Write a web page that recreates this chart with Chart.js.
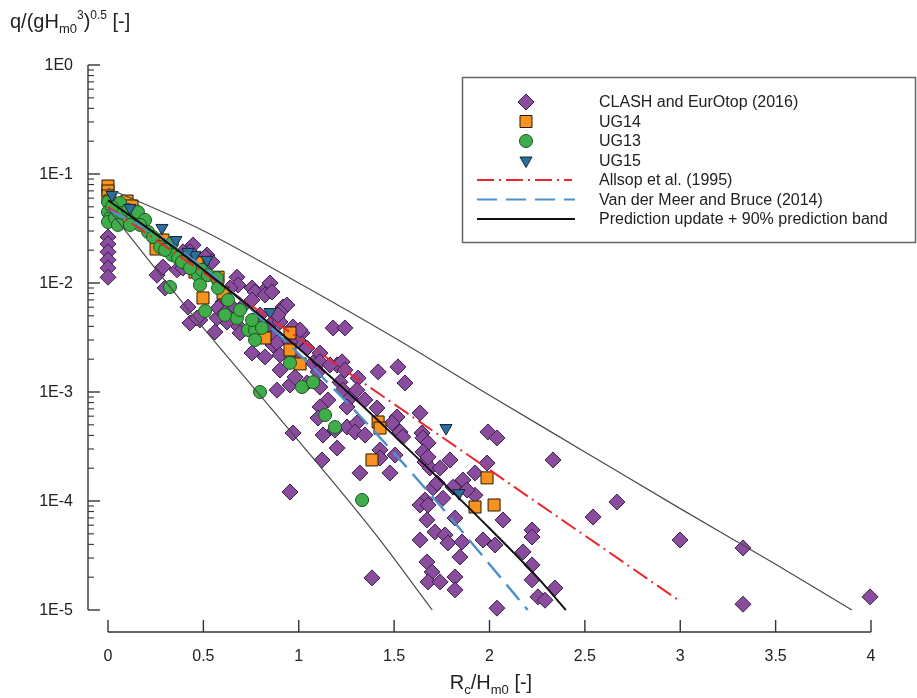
<!DOCTYPE html>
<html><head><meta charset="utf-8">
<script src="https://cdn.jsdelivr.net/npm/chart.js@4.4.1/dist/chart.umd.min.js"></script>
<style>html,body{margin:0;padding:0;background:#fff;}#wrap{width:917px;height:698px;position:relative;}</style>
</head><body><div id="wrap"><canvas id="c" width="917" height="698"></canvas></div>
<script>
// ---------------- data ----------------
const clashX = [0,0,0,0,0,0,0.257,0.288,0.299,0.362,
0.393,0.446,0.430,0.393,0.519,0.509,0.524,0.545,0.676,0.682,
0.755,0.813,0.849,0.917,0.603,0.640,0.703,0.419,0.430,0.482,
0.561,0.970,1.017,0.886,0.498,0.467,0.624,0.655,0.771,0.823,
0.860,0.755,0.938,0.902,0.676,0.692,0.849,0.902,0.865,0.755,
0.823,0.980,1.043,1.111,1.075,1.180,1.242,1.201,0.891,0.876,
0.886,0.996,1.111,1.164,1.101,1.227,1.242,0.902,0.954,0.886,
1.043,1.111,1.216,1.232,1.311,1.269,1.347,1.416,1.520,1.557,
1.410,1.253,1.153,1.111,1.253,1.305,1.295,0.970,1.127,1.515,
1.489,1.531,1.646,1.636,1.545,1.651,1.678,1.651,1.662,1.688,
1.741,1.793,1.426,1.426,1.505,1.478,1.992,2.039,1.987,1.924,
1.861,1.809,1.704,1.924,1.662,1.636,1.756,1.672,1.819,2.071,
1.678,1.714,1.767,1.782,1.636,1.856,1.966,2.029,2.223,2.223,
2.176,1.845,1.672,1.699,1.678,1.741,1.819,1.819,2.223,2.223,
2.343,2.254,2.291,2.039,1.384,2.333,2.668,2.543,2.999,3.329,
3.329,3.995,0.954,0.797,0.624,0.571,1.122,1.201,1.321,0.419,
0.640,0.577,1.007,0.902,0.613,0.954,0.980,1.305,1.101,1.190,
1.347,1.678,1.725,1.882];
const clashY = [2.64e-2,2.28e-2,1.93e-2,1.63e-2,1.37e-2,1.13e-2,1.18e-2,1.40e-2,9.0e-3,1.32e-2,
1.37e-2,2.23e-2,1.93e-2,1.93e-2,1.81e-2,1.73e-2,1.46e-2,1.56e-2,1.13e-2,9.58e-3,
9.0e-3,8.27e-3,1.0e-2,6.02e-3,6.70e-3,6.28e-3,6.02e-3,6.02e-3,4.30e-3,4.58e-3,
3.55e-3,3.95e-3,3.48e-3,4.88e-3,1.37e-2,4.77e-3,6.56e-3,5.90e-3,8.27e-3,7.76e-3,
8.27e-3,6.98e-3,6.28e-3,5.42e-3,4.12e-3,3.48e-3,4.12e-3,4.39e-3,2.70e-3,2.28e-3,
2.10e-3,2.05e-3,2.53e-3,2.28e-3,1.85e-3,3.87e-3,3.87e-3,1.77e-3,5.09e-3,3.34e-3,
2.82e-3,3.0e-3,1.89e-3,1.77e-3,1.53e-3,1.89e-3,1.59e-3,1.59e-3,1.16e-3,1.04e-3,
1.21e-3,1.11e-3,1.23e-3,1.04e-3,1.34e-3,8.81e-4,8.45e-4,1.53e-3,1.70e-3,1.21e-3,
7.13e-4,7.29e-4,8.45e-4,7.29e-4,4.77e-4,5.20e-4,4.30e-4,4.21e-4,4.03e-4,5.90e-4,
5.20e-4,4.30e-4,4.21e-4,6.42e-4,3.87e-4,3.79e-4,3.41e-4,2.82e-4,2.28e-4,2.01e-4,
2.01e-4,2.38e-4,2.94e-4,2.48e-4,2.64e-4,1.81e-4,4.30e-4,3.79e-4,2.23e-4,1.81e-4,
1.56e-4,1.34e-4,1.32e-4,1.13e-4,1.02e-4,9.19e-5,1.06e-4,6.70e-5,6.98e-5,6.70e-5,
9.19e-5,5.20e-5,4.88e-5,4.12e-5,4.39e-5,4.21e-5,4.39e-5,3.95e-5,5.42e-5,4.67e-5,
3.41e-5,3.06e-5,2.76e-5,2.23e-5,1.81e-5,1.81e-5,2.01e-5,1.53e-5,2.59e-5,1.89e-5,
1.59e-5,1.32e-5,1.23e-5,1.04e-5,1.97e-5,2.38e-4,9.79e-5,7.13e-5,4.39e-5,3.71e-5,
1.13e-5,1.32e-5,1.21e-4,5.09e-3,4.39e-3,4.77e-3,2.38e-4,3.06e-4,1.81e-4,1.56e-2,
9.0e-3,5.90e-3,3.71e-3,2.19e-3,5.31e-3,2.88e-3,1.37e-3,1.04e-3,5.77e-4,4.48e-4,
4.03e-4,2.53e-4,1.46e-4,1.26e-4];

const ug14X = [0,0,0,0.01,0.10,0.126,0.079,0.288,0.252,0.467,0.456,0.577,0.603,0.498,0.823,0.954,0.954,1.007,1.416,1.426,1.384,1.987,1.924,2.024];
const ug14Y = [7.76e-2,6.98e-2,6.28e-2,5.65e-2,5.65e-2,5.09e-2,3.63e-2,2.48e-2,2.05e-2,1.53e-2,1.26e-2,1.13e-2,8.1e-3,7.29e-3,3.13e-3,3.48e-3,2.43e-3,1.81e-3,5.31e-4,4.67e-4,2.38e-4,1.63e-4,8.81e-5,9.19e-5];

const ug13X = [0,0,0.01,0,0.037,0.063,0.073,0.105,0.131,0.157,0.194,0.168,0.210,0.236,0.273,0.336,0.336,0.367,0.388,0.472,0.493,0.524,0.571,0.482,0.325,0.509,0.577,0.676,0.734,0.771,0.807,0.755,0.771,0.954,1.017,1.075,1.138,1.190,1.332,0.797,0.021,0.052,0.115,0.299,0.430,0.629,0.692,0.613];
const ug13Y = [5.53e-2,4.48e-2,3.95e-2,3.63e-2,3.95e-2,5.42e-2,4.39e-2,4.67e-2,3.95e-2,4.48e-2,3.79e-2,3.41e-2,2.94e-2,2.64e-2,2.14e-2,2.33e-2,1.81e-2,1.70e-2,1.56e-2,1.18e-2,1.32e-2,1.18e-2,1.11e-2,9.58e-3,9.19e-3,5.53e-3,9.0e-3,4.77e-3,3.71e-3,3.71e-3,3.87e-3,4.58e-3,3.0e-3,1.85e-3,1.11e-3,1.23e-3,6.15e-4,4.77e-4,1.02e-4,1.0e-3,4.98e-2,3.41e-2,3.41e-2,2.01e-2,1.37e-2,6.98e-3,5.65e-3,5.09e-3];

const ug15X = [0.021,0.115,0.283,0.356,0.456,0.519,0.419,0.849,1.772,1.840];
const ug15Y = [6.42e-2,4.88e-2,3.20e-2,2.48e-2,1.81e-2,1.63e-2,1.93e-2,5.42e-3,4.67e-4,1.18e-4];

const allsopX = [0, 3.0];
const allsopY = [5.0e-2, 1.2e-5];
const vdmX = [0,0.25,0.5,0.75,1.0,1.25,1.5,1.75,2.0,2.2];
const vdmY = [4.68e-2,2.82e-2,1.38e-2,5.75e-3,2.24e-3,8.13e-4,2.75e-4,8.71e-5,2.63e-5,1.0e-5];
const predX = [0,0.25,0.5,0.75,1.0,1.25,1.5,1.75,2.0,2.25,2.4];
const predY = [5.75e-2,2.82e-2,1.32e-2,5.89e-3,2.51e-3,1.02e-3,3.98e-4,1.51e-4,5.62e-5,2.0e-5,1.0e-5];
const bandUpX = [0,0.5,1.0,1.5,2.0,2.5,3.0,3.5,3.9];
const bandUpY = [7.41e-2,3.02e-2,1.0e-2,3.16e-3,9.33e-4,2.82e-4,8.51e-5,2.63e-5,1.0e-5];
const bandLowX = [0,0.4,0.7,1.0,1.4,1.7];
const bandLowY = [4.79e-2,6.31e-3,1.48e-3,3.55e-4,5.01e-5,1.0e-5];

const xTickVals = [0,0.5,1,1.5,2,2.5,3,3.5,4];
const xTickLabels = ['0','0.5','1','1.5','2','2.5','3','3.5','4'];
const yTickVals = [1,1e-1,1e-2,1e-3,1e-4,1e-5];
const yTickLabels = ['1E0','1E-1','1E-2','1E-3','1E-4','1E-5'];
const legendLabels = ['CLASH and EurOtop (2016)','UG14','UG13','UG15','Allsop et al. (1995)','Van der Meer and Bruce (2014)','Prediction update + 90% prediction band'];

// ---------------- styles ----------------
const FONT = '"Liberation Sans", Arial, sans-serif';
const C = {
  purple:'#8a4c9d', purpleB:'#3d1f4c',
  orange:'#f7921e', orangeB:'#2a1800',
  green:'#3fae4a', greenB:'#1c5520',
  blue:'#2f6d9b', blueB:'#15283a',
  red:'#e8282c', lblue:'#4e90c9', black:'#111111', band:'#4a4a4a'
};
const pts = (xs, ys) => xs.map((v,i)=>({x:v, y:ys[i]}));

function pointSet(label, xs, ys, style, fill, border, r, order, rot){
  return {label, data:pts(xs,ys), showLine:false, pointStyle:style, pointRadius:r, pointHoverRadius:r,
    pointRotation:rot||0, backgroundColor:fill, borderColor:border, pointBorderWidth:1, borderWidth:1, order, clip:false};
}
function lineSet(label, xs, ys, color, width, dash, order){
  return {label, data:pts(xs,ys), showLine:true, pointRadius:0, borderColor:color, borderWidth:width,
    borderDash:dash, backgroundColor:color, fill:false, cubicInterpolationMode:'monotone', order, clip:false};
}

// ---------------- custom axes + legend ----------------
function richText(ctx, parts, x, y){
  let cx = x;
  parts.forEach(p=>{
    ctx.font = p.s + 'px ' + FONT;
    ctx.fillText(p.t, cx, y + (p.dy||0));
    cx += ctx.measureText(p.t).width;
  });
  return cx - x;
}
function measureRich(ctx, parts){
  let w=0; parts.forEach(p=>{ctx.font=p.s+'px '+FONT; w+=ctx.measureText(p.t).width;}); return w;
}
function marker(ctx, kind, x, y){
  ctx.beginPath();
  if(kind==='diamond'){ const r=8; ctx.moveTo(x,y-r);ctx.lineTo(x+r,y);ctx.lineTo(x,y+r);ctx.lineTo(x-r,y);ctx.closePath(); ctx.fillStyle=C.purple; ctx.strokeStyle=C.purpleB; }
  else if(kind==='square'){ const h=6; ctx.rect(x-h,y-h,2*h,2*h); ctx.fillStyle=C.orange; ctx.strokeStyle=C.orangeB; }
  else if(kind==='circle'){ ctx.arc(x,y,6.5,0,Math.PI*2); ctx.fillStyle=C.green; ctx.strokeStyle=C.greenB; }
  else { const r=7; const s=r*Math.sin(Math.PI/3); ctx.moveTo(x-s,y-r/2);ctx.lineTo(x+s,y-r/2);ctx.lineTo(x,y+r);ctx.closePath(); ctx.fillStyle=C.blue; ctx.strokeStyle=C.blueB; }
  ctx.lineWidth=1; ctx.fill(); ctx.stroke();
}

const decor = {
  id:'decor',
  afterDraw(chart){
    const {ctx, scales:{x, y}} = chart;
    ctx.save();
    ctx.strokeStyle='#333'; ctx.lineWidth=1.4; ctx.lineCap='butt';
    const seg=(a,b,c,d)=>{ctx.beginPath();ctx.moveTo(a,b);ctx.lineTo(c,d);ctx.stroke();};
    // y axis (offset left)
    const ax = x.getPixelForValue(0) - 20;
    const yTop = y.getPixelForValue(1), yBot = y.getPixelForValue(1e-5);
    seg(ax, yTop, ax, yBot);
    yTickVals.forEach(v=>{const p=y.getPixelForValue(v); seg(ax,p,ax+12,p);});
    ctx.lineWidth=1.1;
    for(let k=-5;k<0;k++) for(let m=2;m<=9;m++){const p=y.getPixelForValue(m*Math.pow(10,k)); seg(ax,p,ax+6,p);}
    ctx.fillStyle='#222'; ctx.font='16px '+FONT; ctx.textAlign='right'; ctx.textBaseline='middle';
    yTickVals.forEach((v,i)=>ctx.fillText(yTickLabels[i], ax-15, y.getPixelForValue(v)+1));
    // x axis (offset below)
    const xa = yBot + 22;
    ctx.lineWidth=1.4;
    seg(x.getPixelForValue(0), xa, x.getPixelForValue(4), xa);
    ctx.textAlign='center'; ctx.textBaseline='alphabetic';
    xTickVals.forEach((v,i)=>{const p=x.getPixelForValue(v); seg(p,xa,p,xa-12); ctx.fillText(xTickLabels[i], p, xa+29);});
    // axis titles
    ctx.textAlign='left'; ctx.fillStyle='#222';
    richText(ctx,[{t:'q/(gH',s:20},{t:'m0',s:13,dy:5},{t:'3',s:12,dy:-9},{t:')',s:20},{t:'0.5',s:12,dy:-9},{t:' [-]',s:20}], 10, 28);
    const xt=[{t:'R',s:20},{t:'c',s:13,dy:5},{t:'/H',s:20},{t:'m0',s:13,dy:5},{t:' [-]',s:20}];
    const w=measureRich(ctx,xt);
    richText(ctx, xt, 491 - w/2, 689);
    // legend box
    ctx.strokeStyle='#666'; ctx.lineWidth=1.5;
    ctx.strokeRect(462.5, 77.5, 453, 165);
    const rows=[102,121.5,141,160.5,180,199.5,219];
    const mk=['diamond','square','circle','tri'];
    mk.forEach((k,i)=>marker(ctx,k,526,rows[i]));
    ctx.lineWidth=2;
    ctx.strokeStyle=C.red; ctx.setLineDash([17,5,2,5]); seg(477,rows[4],572,rows[4]);
    ctx.strokeStyle=C.lblue; ctx.lineWidth=2.2; ctx.setLineDash([20,9]); seg(477,rows[5],575,rows[5]);
    ctx.strokeStyle=C.black; ctx.lineWidth=2.2; ctx.setLineDash([]); seg(477,rows[6],575,rows[6]);
    ctx.fillStyle='#222'; ctx.font='16px '+FONT; ctx.textBaseline='middle'; ctx.textAlign='left';
    legendLabels.forEach((t,i)=>ctx.fillText(t, 599, rows[i]+1));
    ctx.restore();
  }
};

new Chart(document.getElementById('c'), {
  type:'scatter',
  data:{datasets:[
    lineSet('upper band', bandUpX, bandUpY, C.band, 1.2, [], 0),
    lineSet('lower band', bandLowX, bandLowY, C.band, 1.2, [], 0),
    lineSet('Prediction update + 90% prediction band', predX, predY, C.black, 2, [], 0),
    lineSet('Van der Meer and Bruce (2014)', vdmX, vdmY, C.lblue, 2.4, [20,9], 0),
    lineSet('Allsop et al. (1995)', allsopX, allsopY, C.red, 2, [17,5,2,5], 0),
    pointSet('UG15', ug15X, ug15Y, 'triangle', C.blue, C.blueB, 7, 1, 180),
    pointSet('UG13', ug13X, ug13Y, 'circle', C.green, C.greenB, 6.5, 2),
    pointSet('UG14', ug14X, ug14Y, 'rect', C.orange, C.orangeB, 8.5, 3),
    pointSet('CLASH and EurOtop (2016)', clashX, clashY, 'rectRot', C.purple, C.purpleB, 8, 4)
  ]},
  options:{
    responsive:false, animation:false, devicePixelRatio:1,
    layout:{padding:{left:108, right:46, top:65, bottom:88}},
    scales:{
      x:{type:'linear', min:0, max:4, display:false},
      y:{type:'logarithmic', min:1e-5, max:1, display:false}
    },
    plugins:{legend:{display:false}, tooltip:{enabled:false}}
  },
  plugins:[decor]
});
</script></body></html>
